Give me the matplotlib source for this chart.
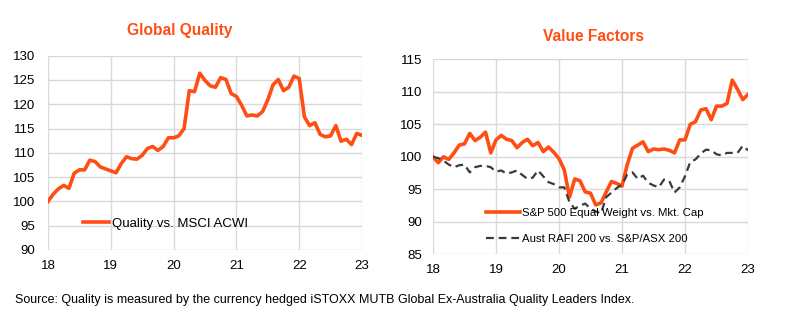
import numpy as np
import matplotlib
matplotlib.use('Agg')
import matplotlib.pyplot as plt

plt.rcParams['font.family'] = ['Liberation Sans', 'DejaVu Sans']

# monthly, Jan 2018 .. Jan 2023 (61 points)
quality = [100.0, 101.5, 102.6, 103.3, 102.7, 105.8, 106.5, 106.5, 108.5, 108.2,
           107.1, 106.7, 106.3, 105.9, 107.8, 109.2, 108.8, 108.7, 109.5, 110.9,
           111.3, 110.5, 111.3, 113.1, 113.1, 113.5, 115.0, 122.8, 122.6, 126.4,
           124.9, 123.8, 123.5, 125.5, 125.1, 122.2, 121.6, 119.8, 117.6, 117.8,
           117.6, 118.5, 120.9, 124.0, 125.1, 122.8, 123.5, 125.8, 125.3, 117.4,
           115.6, 116.2, 113.8, 113.3, 113.5, 115.6, 112.4, 112.8, 111.7, 114.0,
           113.6]

sp500_ew = [100.0, 99.1, 100.0, 99.6, 100.6, 101.8, 102.0, 103.6, 102.5, 103.0,
            103.8, 100.6, 102.6, 103.3, 102.7, 102.5, 101.4, 102.2, 102.7, 101.7,
            102.2, 100.8, 101.5, 100.7, 99.7, 98.0, 93.8, 96.6, 96.3, 94.6,
            94.4, 92.6, 92.9, 94.6, 96.2, 95.9, 95.5, 98.8, 101.3, 101.8,
            102.3, 100.8, 101.2, 101.1, 101.2, 101.0, 100.6, 102.6, 102.6, 105.0,
            105.4, 107.2, 107.4, 105.7, 107.8, 107.8, 108.2, 111.8, 110.4, 108.8,
            109.6]

aust_rafi = [100.0, 99.8, 99.4, 98.8, 98.4, 98.7, 98.8, 97.6, 98.4, 98.6,
             98.6, 98.4, 97.7, 97.9, 97.4, 97.6, 97.9, 97.2, 96.6, 96.8,
             97.9, 97.0, 96.1, 95.8, 95.3, 95.3, 93.0, 92.0, 92.5, 92.8,
             92.0, 91.6, 91.3, 93.8, 94.5, 95.2, 95.7, 97.3, 97.6, 96.6,
             97.1, 96.0, 95.6, 95.3, 96.5, 96.3, 94.5, 95.3, 97.0, 99.2,
             99.6, 100.5, 101.1, 101.0, 100.4, 100.2, 100.6, 100.6, 100.6, 101.7,
             101.0]

year_ticks = [18, 19, 20, 21, 22, 23]

orange = '#FF4E14'
grid_col = '#D9D9D9'

fig = plt.figure(figsize=(7.9, 3.29), dpi=100)


def style_axes(ax, ymin, ymax, ypad):
    ax.set_xlim(18, 23)
    ax.set_ylim(ymin, ymax)
    ax.set_xticks(year_ticks)
    ax.set_yticks(np.arange(ymin, ymax + 1, 5))
    ax.grid(True, color=grid_col, linewidth=1)
    ax.set_axisbelow(True)
    for s in ax.spines.values():
        s.set_visible(False)
    ax.tick_params(axis='both', length=0, labelsize=9.5)
    ax.tick_params(axis='x', pad=7)
    ax.tick_params(axis='y', pad=ypad)


t = 18 + np.arange(61) / 12

ax1 = fig.add_axes([48 / 790, 1 - 250 / 329, 314 / 790, 194.3 / 329])
style_axes(ax1, 90, 130, 9)
ax1.plot(t, quality, color=orange, lw=2.6, label='Quality vs. MSCI ACWI')
ax1.legend(loc='upper left', bbox_to_anchor=(0.09, 0.20), frameon=False,
           handlelength=2.0, handletextpad=0.2, fontsize=9.5, borderpad=0)
ax1.set_title('Global Quality', color=orange, fontsize=11.2, fontweight='bold',
              x=0.42, pad=15)

ax2 = fig.add_axes([433 / 790, 1 - 254.3 / 329, 315 / 790, 195 / 329])
style_axes(ax2, 85, 115, 8)
ax2.plot(t, sp500_ew, color=orange, lw=2.6, label='S&P 500 Equal Weight vs. Mkt. Cap')
ax2.plot(t, aust_rafi, color='#3A3A3A', lw=1.6, ls=(0, (3.5, 2.2)),
         label='Aust RAFI 200 vs. S&P/ASX 200')
ax2.legend(loc='upper left', bbox_to_anchor=(0.15, 0.265), frameon=False,
           handlelength=3.0, handletextpad=0.2, fontsize=8.2, borderpad=0,
           labelspacing=1.35)
ax2.set_title('Value Factors', color=orange, fontsize=11.2, fontweight='bold',
              x=0.51, pad=13)

fig.text(15 / 790, 1 - 300 / 329,
         'Source: Quality is measured by the currency hedged iSTOXX MUTB Global '
         'Ex-Australia Quality Leaders Index.', fontsize=9, va='center', ha='left')

fig.savefig('out.png', dpi=100)
